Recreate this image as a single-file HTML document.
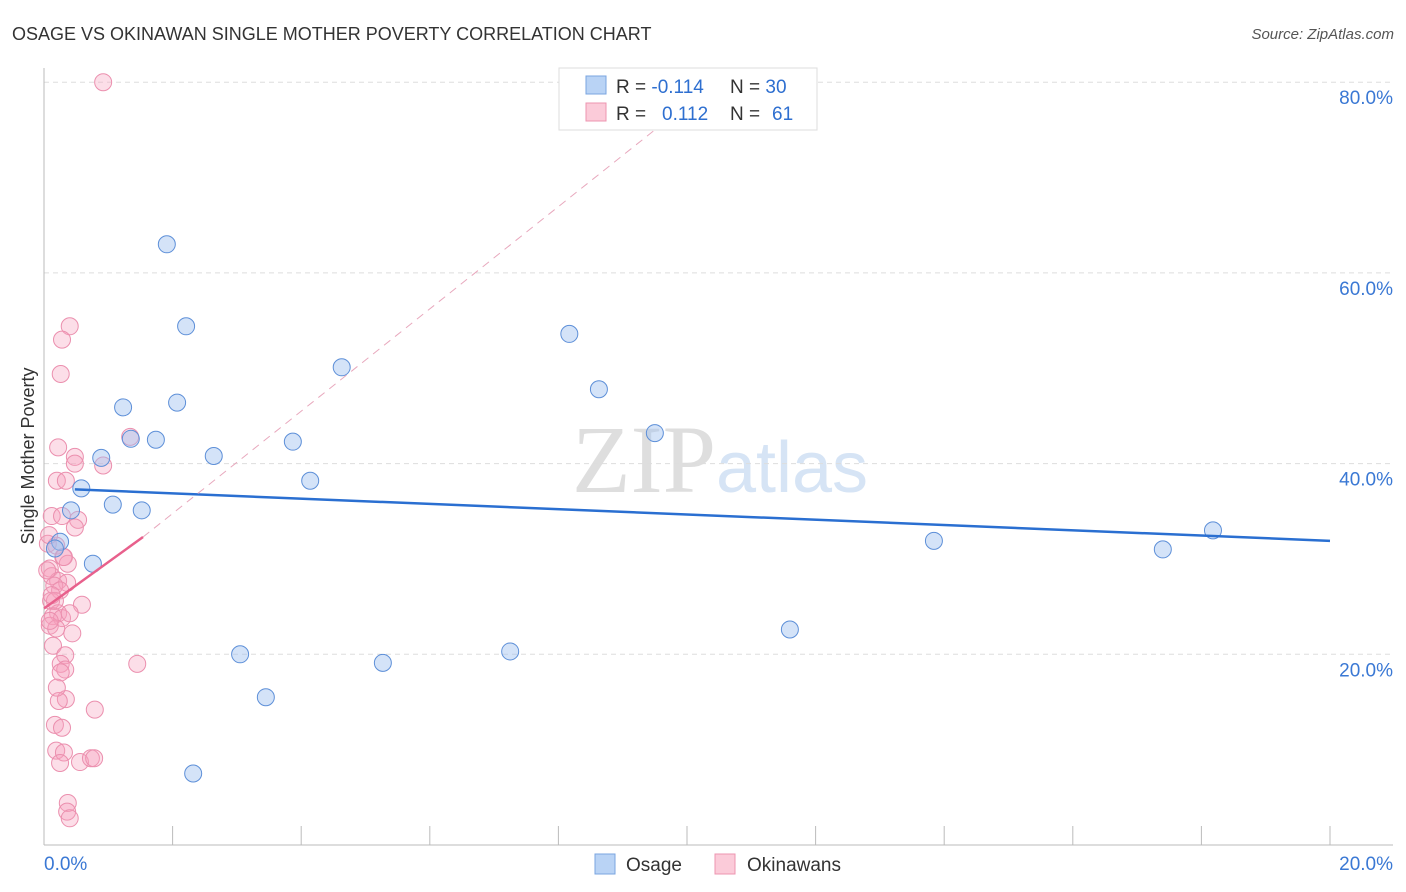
<!DOCTYPE html>
<html><head><meta charset="utf-8"><style>
body{margin:0;background:#fff;font-family:"Liberation Sans",sans-serif;}
svg{display:block}
</style></head><body>
<svg width="1406" height="892" xmlns="http://www.w3.org/2000/svg">
<text x="12" y="40" font-size="18" fill="#333">OSAGE VS OKINAWAN SINGLE MOTHER POVERTY CORRELATION CHART</text>
<text x="1394" y="39" font-size="15" fill="#555" text-anchor="end" font-style="italic">Source: ZipAtlas.com</text>
<text x="720" y="492" font-size="96" fill="#e6e6e6" text-anchor="middle" font-family="Liberation Serif"><tspan fill="#dedede">ZIP</tspan><tspan fill="#d6e4f5" font-family="Liberation Sans" font-size="72">atlas</tspan></text>
<g id="grid"></g>
<g id="axes"></g>
<text transform="translate(34,456) rotate(-90)" font-size="18" fill="#333" text-anchor="middle">Single Mother Poverty</text>
<g id="pink"></g>
<g id="blue"></g>
<g id="trends"></g>
<g>
<rect x="559" y="68" width="258" height="62" fill="#fff" stroke="#ddd"/>
<rect x="586" y="76" width="20" height="18" fill="#b9d3f5" stroke="#7aa5e0"/>
<rect x="586" y="103" width="20" height="18" fill="#fbcbd9" stroke="#ee94b0"/>
<text x="616" y="93" font-size="19" fill="#333">R = <tspan fill="#2e6fd0">-0.114</tspan></text>
<text x="730" y="93" font-size="19" fill="#333">N = <tspan fill="#2e6fd0">30</tspan></text>
<text x="616" y="120" font-size="19" fill="#333">R = <tspan fill="#2e6fd0" x="662">0.112</tspan></text>
<text x="730" y="120" font-size="19" fill="#333">N = <tspan fill="#2e6fd0" x="772">61</tspan></text>
</g>
<g>
<rect x="595" y="854" width="20" height="20" fill="#b9d3f5" stroke="#7aa5e0"/>
<text x="626" y="871" font-size="19" fill="#333">Osage</text>
<rect x="715" y="854" width="20" height="20" fill="#fbcbd9" stroke="#ee94b0"/>
<text x="747" y="871" font-size="19" fill="#333">Okinawans</text>
</g>
</svg>
<script>
const blueX=[1.91,2.21,1.23,2.07,1.74,1.35,0.89,2.64,0.58,0.42,1.07,1.52,0.25,0.76,4.63,3.87,4.14,8.17,8.63,9.50,13.84,17.40,18.18,11.60,7.25,5.27,3.05,3.45,2.32,0.17];
const blueY=[63.0,54.4,45.9,46.4,42.5,42.6,40.6,40.8,37.4,35.1,35.7,35.1,31.8,29.5,50.1,42.3,38.2,53.6,47.8,43.2,31.9,31.0,33.0,22.6,20.3,19.1,20.0,15.5,7.5,31.1];
const pinkX=[0.92,0.40,0.28,0.26,0.22,0.48,0.48,0.92,1.34,0.20,0.34,0.12,0.28,0.53,0.48,0.06,0.19,0.30,0.37,0.09,0.12,0.22,0.36,0.16,0.25,0.59,0.11,0.22,0.14,0.28,0.09,0.19,0.44,0.14,0.33,0.26,0.33,0.26,1.45,0.34,0.23,0.79,0.17,0.28,0.19,0.31,0.25,0.56,0.73,0.78,0.37,0.36,0.40,0.09,0.05,0.08,0.17,0.31,0.12,0.40,0.20];
const pinkY=[80.0,54.4,53.0,49.4,41.7,40.7,40.0,39.8,42.8,38.2,38.2,34.5,34.5,34.1,33.3,31.6,31.4,30.2,29.5,29.0,28.2,27.7,27.5,27.2,26.7,25.2,25.6,24.3,24.0,23.8,23.0,22.7,22.2,20.9,19.9,19.0,18.4,18.1,19.0,15.3,15.1,14.2,12.6,12.3,9.9,9.7,8.6,8.7,9.1,9.1,4.4,3.5,2.8,23.5,28.8,32.5,25.6,30.2,26.2,24.3,16.5];
const blueTrendX=[0.48,20];const blueTrendY=[37.3,31.9];
const pinkTrendX=[0,1.54];const pinkTrendY=[24.8,32.3];
const pinkDashX=[1.54,9.5];const pinkDashY=[32.3,75.0];
const yTicks=[20,40,60,80];const yTickLabels=["20.0%","40.0%","60.0%","80.0%"];
const xTickVals=[0,2,4,6,8,10,12,14,16,18,20];
const NS="http://www.w3.org/2000/svg";
const sx=v=>44+v*64.3, sy=v=>845-v*9.535;
function mk(tag,a,p){const e=document.createElementNS(NS,tag);for(const k in a)e.setAttribute(k,a[k]);p.appendChild(e);return e;}
const grid=document.getElementById('grid'),axes=document.getElementById('axes');
yTicks.forEach((t,i)=>{
 const l=mk('line',{x1:44,x2:1393,y1:sy(t),y2:sy(t),stroke:'#ddd','stroke-dasharray':'5,4'},grid);
 
 
 const tx=mk('text',{x:1393,y:sy(t)+22,'font-size':19,fill:'#3a78d4','text-anchor':'end'},axes);
 tx.textContent=yTickLabels[i];
 
 
});
mk('line',{x1:44,x2:44,y1:68,y2:845,stroke:'#bbb'},axes);
mk('line',{x1:44,x2:1393,y1:845,y2:845,stroke:'#bbb'},axes);
xTickVals.forEach(v=>{if(v>0){const t=mk('line',{x1:sx(v),x2:sx(v),y1:826,y2:845,stroke:'#bbb'},axes);
 
 }});
const x0=mk('text',{x:44,y:870,'font-size':19,fill:'#3a78d4'},axes);x0.textContent='0.0%';


const x1=mk('text',{x:1393,y:870,'font-size':19,fill:'#3a78d4','text-anchor':'end'},axes);x1.textContent='20.0%';


const pink=document.getElementById('pink'),blue=document.getElementById('blue');
pinkX.forEach((v,i)=>{const c=mk('circle',{cx:sx(v),cy:sy(pinkY[i]),r:8.5,fill:'rgba(246,160,188,0.35)',stroke:'#eb8fae','stroke-width':1},pink);
 
 });
blueX.forEach((v,i)=>{const c=mk('circle',{cx:sx(v),cy:sy(blueY[i]),r:8.5,fill:'rgba(160,194,240,0.45)',stroke:'#5d8fd8','stroke-width':1},blue);
 
 });
const tr=document.getElementById('trends');
const b=mk('line',{x1:sx(blueTrendX[0]),y1:sy(blueTrendY[0]),x2:sx(blueTrendX[1]),y2:sy(blueTrendY[1]),stroke:'#2a6fd1','stroke-width':2.5},tr);


const pd=mk('line',{x1:sx(pinkDashX[0]),y1:sy(pinkDashY[0]),x2:sx(pinkDashX[1]),y2:sy(pinkDashY[1]),stroke:'#e8a8bd','stroke-width':1,'stroke-dasharray':'8,6'},tr);


const p=mk('line',{x1:sx(pinkTrendX[0]),y1:sy(pinkTrendY[0]),x2:sx(pinkTrendX[1]),y2:sy(pinkTrendY[1]),stroke:'#e8608c','stroke-width':2.5},tr);


</script>
</body></html>
